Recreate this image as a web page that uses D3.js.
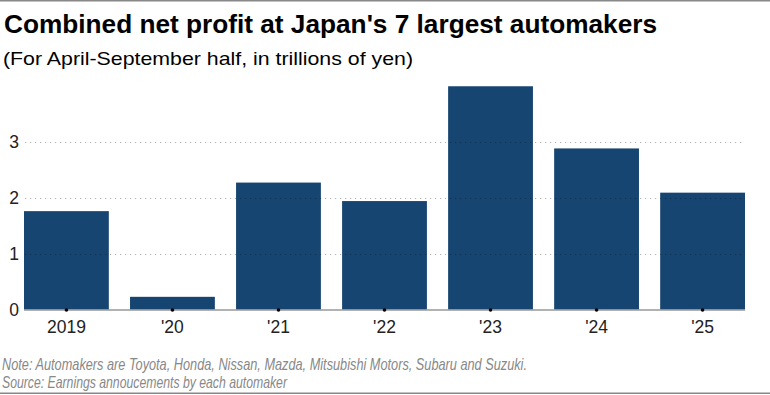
<!DOCTYPE html>
<html><head><meta charset="utf-8">
<script src="https://cdn.jsdelivr.net/npm/d3@7"></script>
<style>
body{margin:0;background:#fff;}
svg{display:block;}
</style></head>
<body>
<svg id="c" width="770" height="395"></svg>
<script>
const categories = ["2019","'20","'21","'22","'23","'24","'25"];
const profits = [1.76, 0.23, 2.27, 1.94, 3.99, 2.88, 2.09];
const yTicks = [0, 1, 2, 3];
const title = "Combined net profit at Japan's 7 largest automakers";
const subtitle = "(For April-September half, in trillions of yen)";
const notes = ["Note: Automakers are Toyota, Honda, Nissan, Mazda, Mitsubishi Motors, Subaru and Suzuki.",
               "Source: Earnings annoucements by each automaker"];
const noteWidths = [525, 285];

const svg = d3.select("#c");
const W = 770, H = 395;
const font = "Arial, 'Liberation Sans', sans-serif";

svg.append("line").attr("x1",0).attr("x2",W).attr("y1",0.75).attr("y2",0.75).attr("stroke","#888").attr("stroke-width",1.5);
svg.append("line").attr("x1",0).attr("x2",W).attr("y1",393.3).attr("y2",393.3).attr("stroke","#888").attr("stroke-width",1.5);

svg.append("text").attr("x",4).attr("y",32.5).text(title)
  .attr("font-family",font).attr("font-weight","bold").attr("font-size",25).attr("fill","#000")
  .attr("textLength",653).attr("lengthAdjust","spacingAndGlyphs");
svg.append("text").attr("x",3).attr("y",65).text(subtitle)
  .attr("font-family",font).attr("font-size",19).attr("fill","#000")
  .attr("textLength",410).attr("lengthAdjust","spacingAndGlyphs");

const x = d3.scaleBand().domain(categories).range([24,745]).paddingInner(0.2).paddingOuter(0);
const y = d3.scaleLinear().domain([0,4]).range([309.7, 85.7]);

svg.append("g").selectAll("rect").data(profits).join("rect")
  .attr("x",(d,i)=>x(categories[i]))
  .attr("width",x.bandwidth())
  .attr("y",d=>y(d))
  .attr("height",d=>y(0)-y(d))
  .attr("fill","#174571");

// gridlines
svg.append("g").selectAll("line").data(yTicks.filter(d=>d>0)).join("line")
  .attr("x1",25).attr("x2",744)
  .attr("y1",d=>Math.round(y(d))+0.5).attr("y2",d=>Math.round(y(d))+0.5)
  .attr("stroke","#000").attr("stroke-opacity",0.3).attr("stroke-width",1.2)
  .attr("stroke-dasharray","1.2,3.8");

// y labels
svg.append("g").selectAll("text").data(yTicks).join("text")
  .attr("x",19).attr("y",d=>y(d)).attr("dy","0.36em").attr("text-anchor","end")
  .attr("font-family",font).attr("font-size",17.5).attr("fill","#222").text(d=>d);

// baseline axis
const xAxis = svg.append("g").attr("transform",`translate(0,${Math.round(y(0))})`);
xAxis.append("line").attr("x1",24).attr("x2",745).attr("y1",0).attr("y2",0).attr("stroke","#999").attr("stroke-width",1.5);
xAxis.selectAll("circle").data(categories).join("circle")
  .attr("cx",d=>x(d)+x.bandwidth()/2).attr("cy",0).attr("r",1.8).attr("fill","#000");
xAxis.selectAll("text").data(categories).join("text")
  .attr("x",d=>x(d)+x.bandwidth()/2).attr("y",23).attr("text-anchor","middle")
  .attr("font-family",font).attr("font-size",17.5).attr("fill","#222").text(d=>d);

svg.append("g").selectAll("text").data(notes).join("text")
  .attr("x",2).attr("y",(d,i)=>370+i*17.5)
  .attr("font-family",font).attr("font-style","italic").attr("font-size",17).attr("fill","#888")
  .attr("textLength",(d,i)=>noteWidths[i]).attr("lengthAdjust","spacingAndGlyphs").text(d=>d);
</script>
</body></html>
